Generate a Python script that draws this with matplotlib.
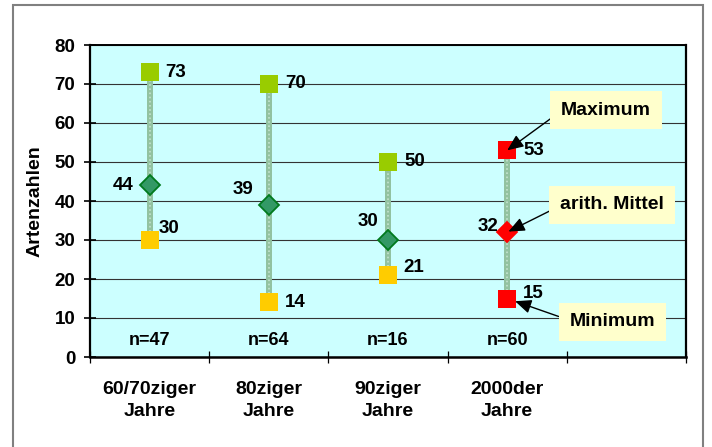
import matplotlib
matplotlib.use("Agg")
import matplotlib.pyplot as plt
from matplotlib.patches import Rectangle
from matplotlib.transforms import blended_transform_factory

plt.rcParams['font.family'] = ['Liberation Sans', 'DejaVu Sans']
plt.rcParams['font.weight'] = 'bold'

# Species counts per period
categories = ["60/70ziger\nJahre", "80ziger\nJahre", "90ziger\nJahre", "2000der\nJahre"]
maxima = [73, 70, 50, 53]
means = [44, 39, 30, 32]
minima = [30, 14, 21, 15]
n_counts = [47, 64, 16, 60]
y_ticks = [0, 10, 20, 30, 40, 50, 60, 70, 80]

# Marker colours per period (last period highlighted in red)
max_colors = ['#99CC00', '#99CC00', '#99CC00', '#FF0000']
min_colors = ['#FFCC00', '#FFCC00', '#FFCC00', '#FF0000']
mean_colors = ['#339966', '#339966', '#339966', '#FF0000']
mean_edges = ['#007A1E', '#007A1E', '#007A1E', '#FF0000']

# Label offsets (pixels) for the value labels
max_off = [(16, 0), (16, 0), (16, 0), (16, 0)]
min_off = [(9, 11), (16, 0), (15, 8), (16, 5)]
mean_off = [(-16, 0), (-15, 15), (-10, 18), (-9, 6)]

NUM_FS = 13.5

fig = plt.figure(figsize=(7.12, 4.47), dpi=100)
fig.patch.set_facecolor('white')

# outer frame
fig.add_artist(Rectangle((13 / 712, -0.2), (703 - 13) / 712, 1.2 - 5 / 447,
                         transform=fig.transFigure, fill=False,
                         edgecolor='#808080', linewidth=1.5))

ax = fig.add_axes([90 / 712, 1 - 357 / 447, (686 - 90) / 712, (357 - 45) / 447])
ax.set_facecolor('#CCFFFF')
ax.set_xlim(0, 5)
ax.set_ylim(0, 80)

ax.set_yticks(y_ticks)
ax.set_yticklabels([str(v) for v in y_ticks], fontsize=NUM_FS, fontweight='bold')
ax.yaxis.grid(True, color='#333333', linewidth=0.8)
ax.set_axisbelow(True)
ax.tick_params(axis='y', direction='inout', length=9, width=1.2, pad=6)

ax.set_xticks(range(6))
ax.set_xticklabels([])
ax.tick_params(axis='x', which='major', direction='inout', length=9, width=0.9)
xpos = [i + 0.5 for i in range(len(categories))]
ax.set_xticks(xpos, minor=True)
ax.set_xticklabels(categories, minor=True, fontsize=14, fontweight='bold',
                   linespacing=1.45)
ax.tick_params(axis='x', which='minor', length=0, pad=17)

for side, lw in [('left', 1.6), ('bottom', 1.8), ('right', 1.6), ('top', 1.4)]:
    ax.spines[side].set_linewidth(lw)
    ax.spines[side].set_color('black')

for i, x in enumerate(xpos):
    # range bar
    ax.plot([x, x], [minima[i], maxima[i]], color='#92c2a0', linewidth=4.3,
            solid_capstyle='butt', zorder=2)
    ax.plot([x, x], [minima[i], maxima[i]], color='#c4e3cf', linewidth=1.2,
            linestyle=(0, (1, 1.5)), zorder=2.1)
    ax.plot([x], [maxima[i]], marker='s', markersize=12.4, color=max_colors[i],
            markeredgewidth=0, zorder=3)
    ax.plot([x], [minima[i]], marker='s', markersize=12.4, color=min_colors[i],
            markeredgewidth=0, zorder=3)
    ax.plot([x], [means[i]], marker='D', markersize=10.3, markerfacecolor=mean_colors[i],
            markeredgecolor=mean_edges[i], markeredgewidth=1.3, zorder=3)

    ax.annotate(str(maxima[i]), (x, maxima[i]), xytext=max_off[i],
                textcoords='offset pixels', ha='left', va='center',
                fontsize=NUM_FS, fontweight='bold')
    ax.annotate(str(minima[i]), (x, minima[i]), xytext=min_off[i],
                textcoords='offset pixels', ha='left', va='center',
                fontsize=NUM_FS, fontweight='bold')
    ax.annotate(str(means[i]), (x, means[i]), xytext=mean_off[i],
                textcoords='offset pixels', ha='right', va='center',
                fontsize=NUM_FS, fontweight='bold')

# sample sizes along the bottom
trans = blended_transform_factory(ax.transData, ax.transAxes)
for i, x in enumerate(xpos):
    ax.text(x, 0.054, f"n={n_counts[i]}", transform=trans, ha='center', va='center',
            fontsize=13, fontweight='bold')

# explanatory callouts for the 2000der series
box = dict(boxstyle='square,pad=0.55', facecolor='#FFFFCC', edgecolor='none')
arrow = dict(arrowstyle='-|>,head_length=0.7,head_width=0.3', color='black',
             linewidth=1.0, shrinkA=0)
last = xpos[-1]
ax.annotate("Maximum", xy=(last, maxima[-1]), xytext=(4.33, 63.3),
            ha='center', va='center', fontsize=14, fontweight='bold',
            bbox=box, arrowprops={**arrow, 'shrinkB': 0, 'relpos': (0, 0.45)},
            zorder=5)
ax.annotate("arith. Mittel", xy=(last, means[-1]), xytext=(4.38, 39.0),
            ha='center', va='center', fontsize=14, fontweight='bold',
            bbox=box, arrowprops={**arrow, 'shrinkB': 1, 'relpos': (0, 0.45)},
            zorder=5)
ax.annotate("Minimum", xy=(last, minima[-1]), xytext=(4.38, 9.0),
            ha='center', va='center', fontsize=14, fontweight='bold',
            bbox=box, arrowprops={**arrow, 'shrinkB': 6, 'relpos': (0, 0.6)},
            zorder=5)

fig.text(35 / 712, 1 - 201 / 447, "Artenzahlen", rotation=90, ha='center',
         va='center', fontsize=14, fontweight='bold')

fig.savefig("out.png", dpi=100)
